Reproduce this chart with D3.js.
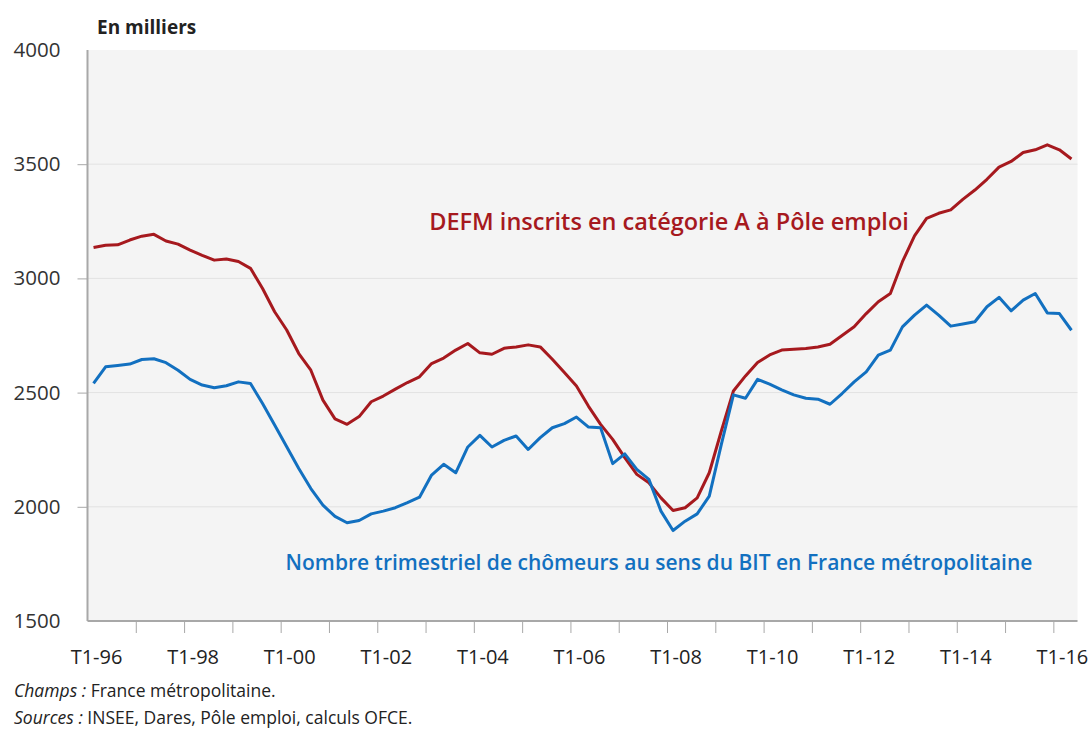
<!DOCTYPE html>
<meta charset="utf-8">
<style>
body { margin: 0; background: #fff; }
text { font-family: "Open Sans", sans-serif; }
.axis path, .axis line { fill: none; stroke: #a8a8a8; }
</style>
<script src="https://d3js.org/d3.v7.min.js"></script>
<body>
<div id="chart"></div>
<script>
// years covered, quarter categories are built from them (T1-96 .. T2-16)
var years = ["96","97","98","99","00","01","02","03","04","05","06","07","08","09","10","11","12","13","14","15","16"];
var tickLabels = ["T1-96","T1-98","T1-00","T1-02","T1-04","T1-06","T1-08","T1-10","T1-12","T1-14","T1-16"];
var yTicks = [1500, 2000, 2500, 3000, 3500, 4000];

// DEFM inscrits en categorie A (milliers)
var defm = [3135,3145,3147,3168,3185,3193,3164,3150,3124,3101,3080,3085,3074,3044,2956,2854,
            2774,2671,2598,2467,2385,2361,2395,2460,2485,2515,2544,2569,2627,2651,2686,2715,
            2674,2668,2694,2700,2709,2700,2646,2588,2529,2440,2361,2295,2215,2142,2105,2039,
            1984,1996,2039,2149,2332,2507,2573,2632,2665,2686,2690,2693,2700,2712,2750,2788,
            2846,2898,2934,3073,3186,3263,3285,3300,3346,3387,3434,3487,3512,3551,3563,3585,
            3563,3523];
// chomeurs BIT (milliers)
var bit = [2540,2613,2619,2625,2645,2648,2631,2598,2558,2533,2521,2530,2547,2540,2452,2358,
           2263,2168,2080,2007,1958,1930,1940,1969,1981,1996,2018,2042,2139,2186,2149,2262,
           2313,2262,2291,2310,2251,2303,2346,2364,2393,2349,2346,2189,2232,2164,2120,1981,
           1896,1937,1969,2047,2273,2490,2475,2558,2537,2512,2490,2475,2471,2449,2496,2547,
           2591,2664,2686,2788,2839,2883,2839,2791,2800,2810,2876,2917,2858,2905,2934,2849,
           2846,2773];

var quarters = [];
years.forEach(function(yr) {
    ["T1","T2","T3","T4"].forEach(function(t) { quarters.push(t + "-" + yr); });
});
quarters = quarters.slice(0, defm.length);

var W = 1092, H = 729;
var xLeft = 87.5, xRight = 1077.5, yTop = 50, yBot = 621;

var svg = d3.select("#chart").append("svg")
    .attr("width", W).attr("height", H);

var x = d3.scaleBand().domain(quarters).range([xLeft, xRight]).padding(0);
var xi = d3.scaleLinear().domain([0, quarters.length]).range([xLeft, xRight]);
var y = d3.scaleLinear().domain([1500, 4000]).range([yBot, yTop]);

// plot background
svg.append("rect")
    .attr("x", xLeft).attr("y", yTop)
    .attr("width", xRight - xLeft).attr("height", yBot - yTop)
    .attr("fill", "#f4f4f4");

// gridlines
svg.append("g").selectAll("line")
    .data(yTicks.slice(1, -1))
    .enter().append("line")
    .attr("x1", xLeft).attr("x2", xRight)
    .attr("y1", function(d) { return y(d); })
    .attr("y2", function(d) { return y(d); })
    .attr("stroke", "#e2e2e2").attr("stroke-width", 1);

// y axis
var yAxis = svg.append("g")
    .attr("class", "axis")
    .attr("transform", "translate(" + xLeft + ",0)")
    .call(d3.axisLeft(y).tickValues(yTicks).tickSize(10).tickPadding(17).tickFormat(d3.format("d")));
yAxis.select(".domain").attr("stroke-width", 2).attr("d", "M0," + yTop + "V" + yBot);
yAxis.selectAll(".tick line").attr("stroke", "#c8c8c8");
yAxis.selectAll(".tick").filter(function(d) { return d == 4000 || d == 1500; }).select("line").remove();
yAxis.selectAll("text").attr("font-size", 20.5).attr("fill", "#333");

// x axis: tick marks every year on category boundaries
var xTickIdx = d3.range(4, quarters.length, 4);
var xAxis = svg.append("g")
    .attr("class", "axis")
    .attr("transform", "translate(0," + yBot + ")")
    .call(d3.axisBottom(xi).tickValues(xTickIdx).tickSize(12).tickFormat(""));
xAxis.select(".domain").attr("stroke-width", 2).attr("d", "M" + xLeft + ",0H" + xRight);
xAxis.selectAll(".tick line").attr("stroke", "#c8c8c8");

// x labels every two years, centred on the quarter
var xLab = svg.append("g")
    .attr("transform", "translate(3," + bottomShift() + ")")
    .call(d3.axisBottom(x).tickValues(tickLabels).tickSize(0).tickPadding(27));
xLab.select(".domain").remove();
xLab.selectAll("text").attr("font-size", 20).attr("fill", "#222");

function bottomShift() { return yBot + 2; }

// lines
var line = d3.line()
    .x(function(d, i) { return x(quarters[i]) + x.bandwidth() / 2; })
    .y(function(d) { return y(d); });

svg.append("path").datum(defm)
    .attr("d", line).attr("fill", "none")
    .attr("stroke", "#a6191e").attr("stroke-width", 3).attr("stroke-linejoin", "round");

svg.append("path").datum(bit)
    .attr("d", line).attr("fill", "none")
    .attr("stroke", "#1270c0").attr("stroke-width", 3).attr("stroke-linejoin", "round");

// series labels
svg.append("text")
    .attr("x", 669).attr("y", 230)
    .attr("text-anchor", "middle")
    .attr("font-size", 23.5).attr("font-weight", 600)
    .attr("fill", "#a6191e")
    .text("DEFM inscrits en catégorie A à Pôle emploi");

svg.append("text")
    .attr("x", 659).attr("y", 570)
    .attr("text-anchor", "middle")
    .attr("font-size", 21).attr("font-weight", 600)
    .attr("fill", "#1270c0")
    .text("Nombre trimestriel de chômeurs au sens du BIT en France métropolitaine");

// unit
svg.append("text")
    .attr("x", 97).attr("y", 34)
    .attr("font-size", 19).attr("font-weight", 700)
    .attr("fill", "#222")
    .text("En milliers");

// notes
var n1 = svg.append("text").attr("x", 14).attr("y", 697).attr("font-size", 17.5).attr("fill", "#222");
n1.append("tspan").attr("font-style", "italic").text("Champs :");
n1.append("tspan").text(" France métropolitaine.");

var n2 = svg.append("text").attr("x", 14).attr("y", 724).attr("font-size", 17.5).attr("fill", "#222");
n2.append("tspan").attr("font-style", "italic").text("Sources :");
n2.append("tspan").text(" INSEE, Dares, Pôle emploi, calculs OFCE.");
</script>
</body>
